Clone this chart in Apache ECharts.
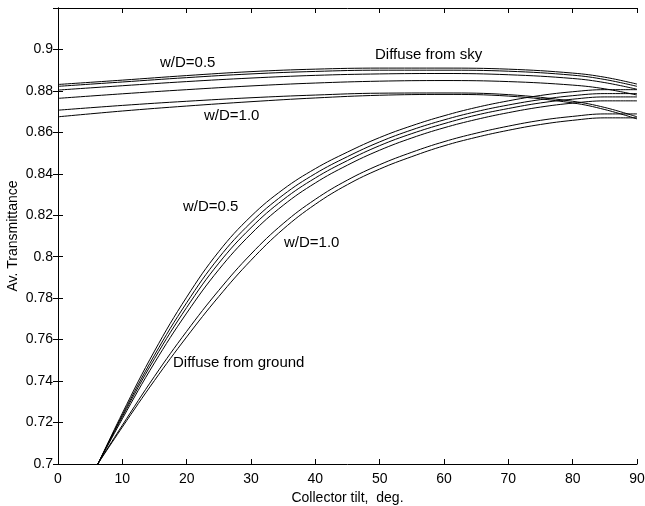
<!DOCTYPE html>
<html>
<head>
<meta charset="utf-8">
<script src="https://cdn.jsdelivr.net/npm/echarts@6/dist/echarts.min.js"></script>
<style>
html,body{margin:0;padding:0;background:#fff;}
#chart{width:645px;height:506px;}
</style>
</head>
<body>
<div id="chart"></div>
<script>
// Collector tilt (deg) sample points
var skyTilt = [0, 10, 20, 30, 40, 50, 60, 70, 80, 85, 90];
var groundTilt = [5, 10, 15, 20, 25, 30, 35, 40, 45, 50, 55, 60, 65, 70, 75, 80, 85, 90];

// Diffuse from sky (w/D = 0.5 ... 1.0)
var sky1 = [0.8831, 0.8852, 0.8874, 0.8893, 0.8905, 0.8910, 0.8910, 0.8905, 0.8886, 0.8866, 0.8833];
var sky2 = [0.8822, 0.8843, 0.8864, 0.8882, 0.8894, 0.8900, 0.8900, 0.8895, 0.8876, 0.8855, 0.8822];
var sky3 = [0.8804, 0.8825, 0.8845, 0.8862, 0.8875, 0.8882, 0.8884, 0.8878, 0.8860, 0.8840, 0.8808];
var sky4 = [0.8764, 0.8786, 0.8806, 0.8824, 0.8838, 0.8847, 0.8850, 0.8845, 0.8828, 0.8810, 0.8780];
var sky5 = [0.8707, 0.8730, 0.8750, 0.8767, 0.8780, 0.8789, 0.8790, 0.8782, 0.8750, 0.8720, 0.8675];
var sky6 = [0.8675, 0.8703, 0.8727, 0.8748, 0.8766, 0.8779, 0.8783, 0.8775, 0.8742, 0.8710, 0.8665];

// Diffuse from ground (w/D = 0.5 ... 1.0)
var ground1 = [0.6920, 0.7245, 0.7545, 0.7805, 0.8025, 0.8195, 0.8325, 0.8425, 0.8505, 0.8575, 0.8632, 0.8680, 0.8720, 0.8752, 0.8778, 0.8796, 0.8806, 0.8806];
var ground2 = [0.6924, 0.7236, 0.7525, 0.7778, 0.7995, 0.8165, 0.8298, 0.8401, 0.8483, 0.8554, 0.8612, 0.8660, 0.8700, 0.8732, 0.8758, 0.8777, 0.8787, 0.8787];
var ground3 = [0.6927, 0.7228, 0.7508, 0.7755, 0.7969, 0.8140, 0.8275, 0.8380, 0.8464, 0.8536, 0.8594, 0.8642, 0.8683, 0.8715, 0.8742, 0.8760, 0.8771, 0.8771];
var ground4 = [0.6930, 0.7218, 0.7488, 0.7728, 0.7938, 0.8110, 0.8248, 0.8356, 0.8442, 0.8514, 0.8573, 0.8622, 0.8662, 0.8695, 0.8722, 0.8741, 0.8752, 0.8752];
var ground5 = [0.6942, 0.7187, 0.7423, 0.7640, 0.7838, 0.8013, 0.8160, 0.8277, 0.8370, 0.8444, 0.8504, 0.8555, 0.8596, 0.8630, 0.8658, 0.8677, 0.8689, 0.8689];
var ground6 = [0.6945, 0.7178, 0.7403, 0.7613, 0.7808, 0.7983, 0.8133, 0.8253, 0.8348, 0.8423, 0.8483, 0.8535, 0.8576, 0.8610, 0.8638, 0.8658, 0.8670, 0.8670];

var xTicks = [0, 10, 20, 30, 40, 50, 60, 70, 80, 90];
var yTickLabels = ['0.7', '0.72', '0.74', '0.76', '0.78', '0.8', '0.82', '0.84', '0.86', '0.88', '0.9'];

var FONT = '"Liberation Sans", Arial, Helvetica, sans-serif';

function pairs(xs, ys) { return xs.map(function (x, i) { return [x, ys[i]]; }); }
function lineSeries(xs, ys) {
  return {
    type: 'line', data: pairs(xs, ys), smooth: 0.4, showSymbol: false, symbol: 'none',
    clip: true, lineStyle: { color: '#000', width: 1 }, silent: true
  };
}

var series = [sky1, sky2, sky3, sky4, sky5, sky6].map(function (s) { return lineSeries(skyTilt, s); })
  .concat([ground1, ground2, ground3, ground4, ground5, ground6].map(function (s) { return lineSeries(groundTilt, s); }));

function yLabel(v) {
  var idx = Math.round((v - 0.7) / 0.02);
  return (idx >= 0 && idx < yTickLabels.length) ? yTickLabels[idx] : '';
}

var axisLineStyle = { lineStyle: { color: '#000', width: 1 } };
var tickStyle = { inside: true, length: 5, lineStyle: { color: '#000', width: 1 } };

var chart = echarts.init(document.getElementById('chart'), null, { renderer: 'canvas' });
chart.setOption({
  animation: false,
  backgroundColor: '#fff',
  grid: { left: 58, right: 8, top: 8, bottom: 42, containLabel: false, outerBoundsMode: 'none' },
  xAxis: [{
    type: 'value', min: xTicks[0], max: xTicks[xTicks.length - 1], interval: 10,
    name: 'Collector tilt,  deg.', nameLocation: 'middle', nameGap: 18,
    nameTextStyle: { fontFamily: FONT, fontSize: 14, color: '#000' },
    axisLine: axisLineStyle, axisTick: tickStyle, splitLine: { show: false },
    axisLabel: { fontFamily: FONT, fontSize: 14, color: '#000', margin: 8 }
  }, {
    type: 'value', position: 'top', min: xTicks[0], max: xTicks[xTicks.length - 1], interval: 10,
    axisLine: axisLineStyle, axisTick: tickStyle, splitLine: { show: false }, axisLabel: { show: false }
  }],
  yAxis: [{
    type: 'value', min: 0.7, max: 0.92, interval: 0.02,
    name: 'Av. Transmittance', nameLocation: 'middle', nameGap: 38, nameMoveOverlap: false,
    nameTextStyle: { fontFamily: FONT, fontSize: 14, color: '#000' },
    axisLine: axisLineStyle, axisTick: tickStyle, splitLine: { show: false },
    axisLabel: { fontFamily: FONT, fontSize: 14, color: '#000', margin: 5, formatter: yLabel }
  }, {
    type: 'value', position: 'right', min: 0.7, max: 0.92, interval: 0.02,
    axisLine: axisLineStyle, axisTick: tickStyle, splitLine: { show: false }, axisLabel: { show: false }
  }],
  series: series,
  graphic: [
    { type: 'text', left: 160, top: 55, style: { text: 'w/D=0.5', font: '15px ' + FONT, fill: '#000' } },
    { type: 'text', left: 375, top: 47, style: { text: 'Diffuse from sky', font: '15px ' + FONT, fill: '#000' } },
    { type: 'text', left: 204, top: 108, style: { text: 'w/D=1.0', font: '15px ' + FONT, fill: '#000' } },
    { type: 'text', left: 183, top: 199, style: { text: 'w/D=0.5', font: '15px ' + FONT, fill: '#000' } },
    { type: 'text', left: 284, top: 235, style: { text: 'w/D=1.0', font: '15px ' + FONT, fill: '#000' } },
    { type: 'text', left: 173, top: 355, style: { text: 'Diffuse from ground', font: '15px ' + FONT, fill: '#000' } }
  ]
});
</script>
</body>
</html>
